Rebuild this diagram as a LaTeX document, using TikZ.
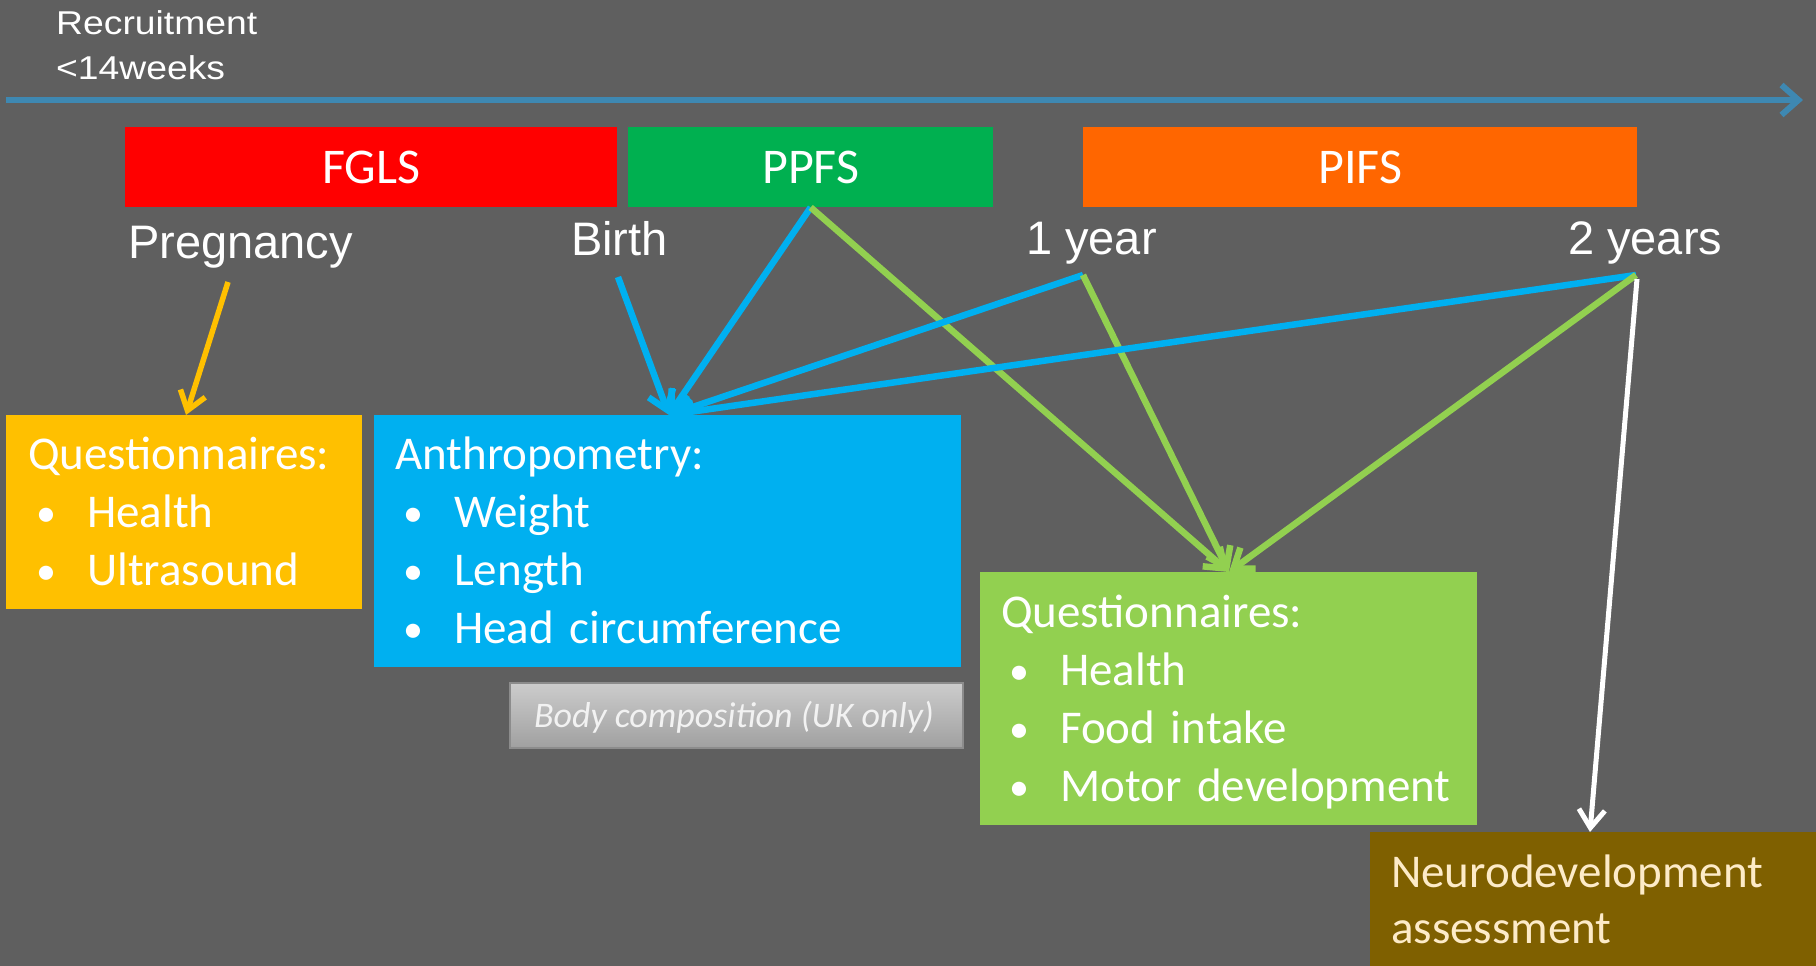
\documentclass[tikz,border=0pt]{standalone}
\usepackage{fontspec}
\setmainfont{Carlito}
\newfontfamily\arialf{Liberation Sans}
\newfontfamily\arialw[FakeStretch=1.13]{Liberation Sans}
\usetikzlibrary{arrows.meta,calc}
\definecolor{bgc}{RGB}{95,95,95}
\definecolor{tlc}{RGB}{62,136,178}
\definecolor{fglsc}{RGB}{255,0,0}
\definecolor{ppfsc}{RGB}{0,176,80}
\definecolor{pifsc}{RGB}{255,102,0}
\definecolor{yelc}{RGB}{255,192,0}
\definecolor{bluc}{RGB}{0,176,240}
\definecolor{grnc}{RGB}{146,208,80}
\definecolor{brnc}{RGB}{127,96,0}
\definecolor{creamc}{RGB}{253,235,200}
\definecolor{graytop}{RGB}{204,204,204}
\definecolor{graybot}{RGB}{160,160,160}
\definecolor{grayedge}{RGB}{140,140,140}
\newcommand\bul{\makebox[59pt][l]{\,\raisebox{1pt}{\fontsize{40}{40}\selectfont •}}}
\begin{document}
\begin{tikzpicture}[x=1pt,y=-1pt,
  phase/.style={fill=#1, draw=none, anchor=north west, inner sep=0pt, minimum height=80pt,
    text=white, font=\fontsize{50}{60}\selectfont},
  lbl/.style={anchor=base west, inner sep=0pt, text=white, font=\arialf\fontsize{47}{56}\selectfont},
  infobox/.style={fill=#1, draw=none, anchor=north west, inner sep=0pt},
  infotext/.style={anchor=base west, inner sep=0pt, text width=520pt, align=left, text=white,
    font=\fontsize{47}{58}\selectfont},
  conn/.style={draw=#1, line width=6.5pt, -{Straight Barb[length=18pt,width=26pt]}},
]
\fill[bgc] (0,0) rectangle (1816,966);
\useasboundingbox (0,0) rectangle (1816,966);

% timeline
\coordinate (tlS) at (6,100);
\coordinate (tlE) at (1803,100);
\draw[draw=tlc, line width=6pt, -{Straight Barb[length=17pt,width=30pt]}] (tlS) -- (tlE);
\node[anchor=base west, inner sep=0pt, align=left, text=white,
  font=\arialw\fontsize{33}{45}\selectfont] (rec) at (56,80) {Recruitment\\<14weeks};

% phases
\node[phase=fglsc, minimum width=492pt] (fgls) at (125,127) {FGLS};
\node[phase=ppfsc, minimum width=365pt] (ppfs) at (628,127) {PPFS};
\node[phase=pifsc, minimum width=554pt] (pifs) at (1083,127) {PIFS};

% time labels
\node[lbl] (preg) at (128,258) {Pregnancy};
\node[lbl] (birth) at (571,255) {Birth};
\node[lbl] (year1) at (1026,254) {1 year};
\node[lbl] (year2) at (1568,254) {2 years};

% boxes
\node[infobox=yelc, minimum width=356pt, minimum height=194pt] (qa) at (6,415) {};
\node[infotext] (qatext) at (28,469) {Questionnaires:\\\bul Health\\\bul Ultrasound};

\node[infobox=bluc, minimum width=587pt, minimum height=252pt] (anth) at (374,415) {};
\node[infotext] (anthtext) at (395,469) {Anthropometry:\\\bul Weight\\\bul Length\\\bul Head circumference};

\node[anchor=north west, inner sep=0pt, minimum width=453pt, minimum height=65pt,
  top color=graytop, bottom color=graybot, draw=grayedge, line width=2pt] (body) at (509,682) {};
\node[anchor=base, inner sep=0pt, text=white!95!black, font=\itshape\fontsize{36}{43}\selectfont]
  (bodytext) at (734,727) {Body composition (UK only)};

\node[infobox=grnc, minimum width=497pt, minimum height=253pt] (qb) at (980,572) {};
\node[infotext] (qbtext) at (1001,627) {Questionnaires:\\\bul Health\\\bul Food intake\\\bul Motor development};

\node[infobox=brnc, minimum width=446pt, minimum height=140pt] (neuro) at (1370,832) {};
\node[infotext, text=creamc, font=\fontsize{47}{56}\selectfont] (neurotext) at (1391,887)
  {Neurodevelopment\\assessment};

% connector ends
\coordinate (pregA) at (228,282);
\coordinate (birthA) at (618,277);
\coordinate (yearA) at (1083,275);
\coordinate (twoA) at (1636,275);
\coordinate (twoB) at (1637,279);
\coordinate (qaIn) at ([xshift=180pt]qa.north west);
\coordinate (anthIn) at ([xshift=295pt]anth.north west);
\coordinate (qbIn) at ([xshift=249pt]qb.north west);
\coordinate (neuroIn) at ([xshift=220pt]neuro.north west);

% connectors
\draw[conn=yelc, line width=5.5pt] (pregA) -- (qaIn);
\draw[conn=bluc] (birthA) -- (anthIn);
\draw[conn=bluc] (ppfs.south) -- (anthIn);
\draw[conn=grnc] (ppfs.south) -- (qbIn);
\draw[conn=bluc] (yearA) -- (anthIn);
\draw[conn=grnc] (yearA) -- (qbIn);
\draw[conn=bluc] (twoA) -- (anthIn);
\draw[conn=grnc] (twoA) -- (qbIn);
\draw[conn=white, line width=5pt] (twoB) -- (neuroIn);
\end{tikzpicture}
\end{document}
